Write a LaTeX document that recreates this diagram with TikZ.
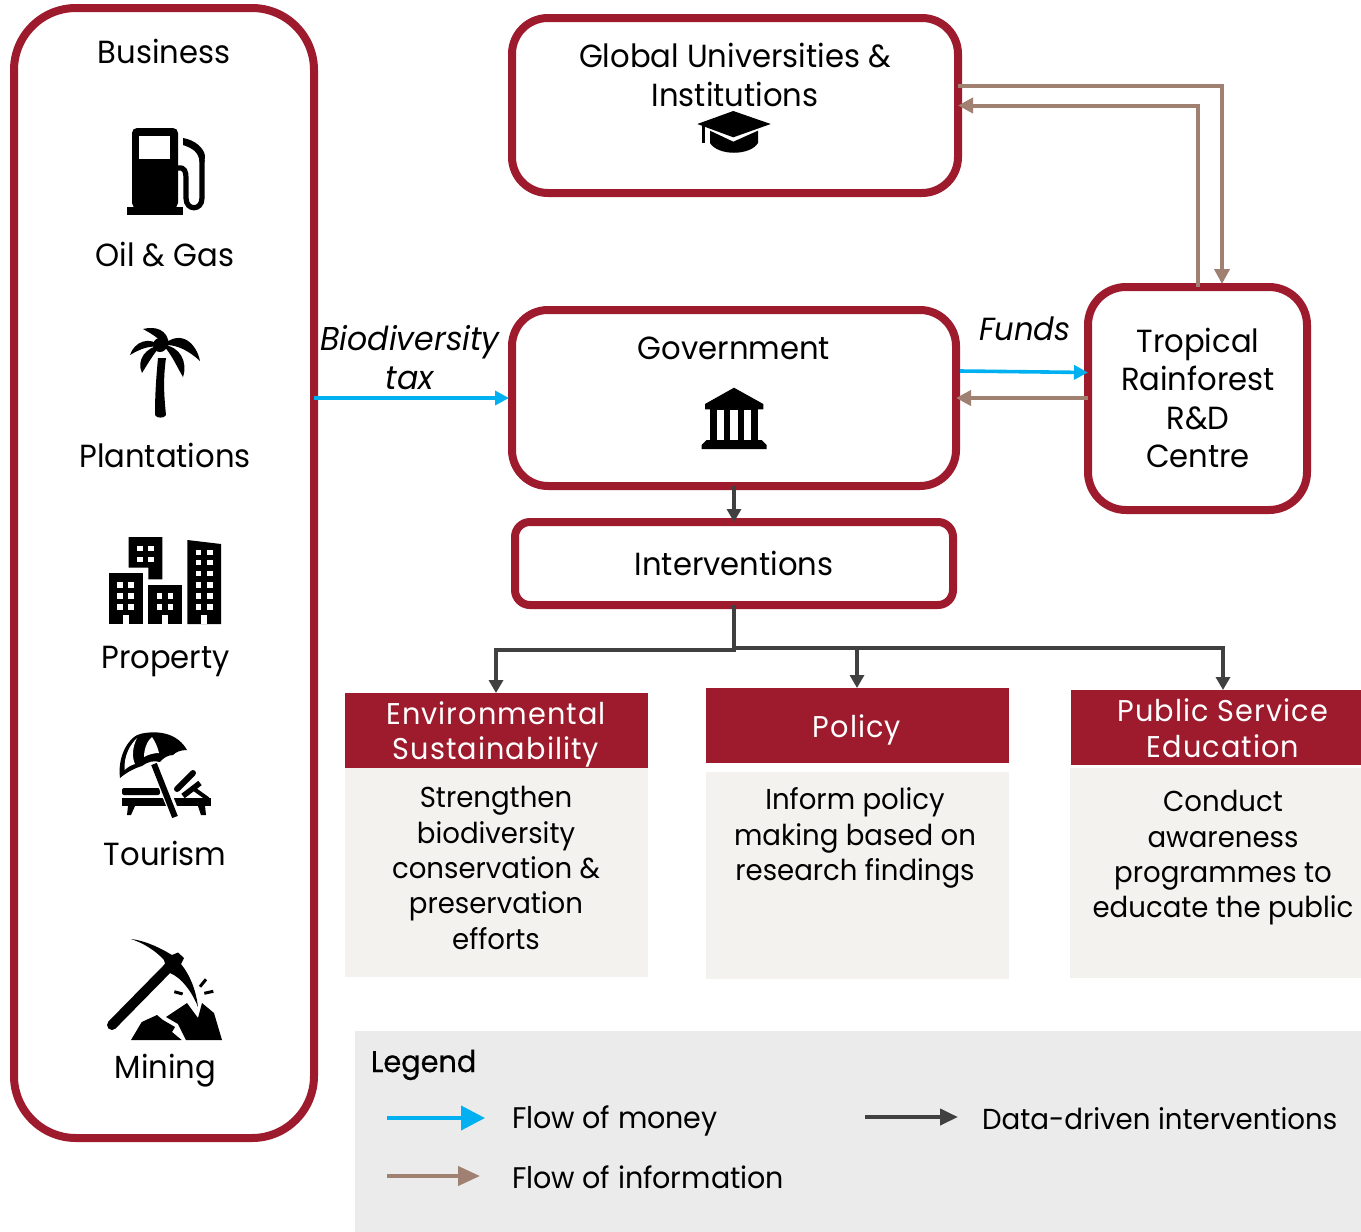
\documentclass[tikz,border=0pt]{standalone}
\usepackage{fontspec}
\usetikzlibrary{arrows.meta,calc}
\setmainfont{Poppins}[FakeStretch=0.958]
\definecolor{dred}{HTML}{9E1B2D}
\definecolor{panel}{HTML}{F3F2EE}
\definecolor{lgd}{HTML}{EBEBEB}
\definecolor{brownline}{HTML}{A08070}
\definecolor{blueline}{HTML}{00B0F0}
\definecolor{darkline}{HTML}{404040}
\newcommand{\fsize}[2]{\fontsize{#1}{#2}\selectfont}
\tikzset{
  x=1pt,y=-1pt,
  redbox/.style={draw=dred,line width=8pt,fill=white,inner sep=0pt,outer sep=0pt,align=center},
  hdr/.style={fill=dred,inner sep=0pt,outer sep=0pt,minimum width=303pt},
  pnl/.style={fill=panel,inner sep=0pt,outer sep=0pt,minimum width=303pt},
  txt/.style={inner sep=0pt,outer sep=0pt,align=center,text=black,font=\fsize{32}{38.6}},
  ptxt/.style={inner sep=0pt,outer sep=0pt,align=center,text=black,font=\fsize{28.8}{35.3}},
  htxt/.style={inner sep=0pt,outer sep=0pt,align=center,text=white,font=\fsize{30}{35.6}\addfontfeatures{LetterSpace=3.6}},
  ltxt/.style={inner sep=0pt,outer sep=0pt,anchor=base west,text=black,font=\fsize{29.8}{36}},
  money/.style={draw=blueline,line width=3.6pt,-{Triangle[length=14pt,width=14pt]}},
  info/.style={draw=brownline,line width=4pt,-{Triangle[length=15pt,width=15pt]}},
  data/.style={draw=darkline,line width=4pt,-{Triangle[length=13pt,width=14pt]}},
  icon/.style={fill=black,draw=none},
}
\begin{document}
\begin{tikzpicture}
\useasboundingbox (0,0) rectangle (1361,1232);
% boxes
\node[redbox,minimum width=300pt,minimum height=1130pt,rounded corners=62pt] (biz) at (164,573) {};
\node[redbox,minimum width=446pt,minimum height=175pt,rounded corners=36pt] (uni) at (735,105.5) {};
\node[redbox,minimum width=444pt,minimum height=176pt,rounded corners=36pt] (gov) at (734,398) {};
\node[redbox,minimum width=219pt,minimum height=223pt,rounded corners=38pt] (rd) at (1197.5,398.5) {};
\node[redbox,minimum width=438pt,minimum height=83pt,rounded corners=15pt] (intv) at (734,563.5) {};
% panels
\node[hdr,minimum height=75pt] (h1) at (496.5,730.5) {};
\node[pnl,minimum height=209pt] (p1) at (496.5,872.5) {};
\node[hdr,minimum height=75pt] (h2) at (857.5,725.5) {};
\node[pnl,minimum height=207pt] (p2) at (857.5,875.5) {};
\node[hdr,minimum height=75pt,minimum width=290pt] (h3) at (1216,727.5) {};
\node[pnl,minimum height=210pt,minimum width=291pt] (p3) at (1215.5,873) {};
\node[fill=lgd,inner sep=0pt,outer sep=0pt,minimum width=1006pt,minimum height=201pt] (lg) at (858,1131.5) {};
% texts
\node[txt,anchor=base] (tb) at (164,63) {Business};
\node[txt,anchor=base] (t1) at (165,266) {Oil \& Gas};
\node[txt,anchor=base] (t2) at (165,467.5) {Plantations};
\node[txt,anchor=base] (t3) at (165.5,668.5) {Property};
\node[txt,anchor=base] (t4) at (165,865) {Tourism};
\node[txt,anchor=base] (t5) at (165.5,1078) {Mining};
\node[txt] (tuni) at (735,75) {Global Universities \&\\Institutions};
\node[txt,anchor=base] (tgov) at (734,359) {Government};
\node[txt] (trd) at (1198,398) {Tropical\\Rainforest\\R\&D\\Centre};
\node[txt,anchor=base] (tint) at (734,575) {Interventions};
\node[txt,font=\fsize{33}{38.4}\itshape] (ttax) at (410,357.5) {Biodiversity\\tax};
\node[txt,anchor=base,font=\fsize{32}{38.4}\itshape] (tfund) at (1025,340) {Funds};
\node[htxt] (th1) at (496,734.5) {Environmental\\Sustainability};
\node[htxt] (th2) at (857,730) {Policy};
\node[htxt] (th3) at (1223,728) {Public Service\\Education};
\node[ptxt] (tp1) at (496,868) {Strengthen\\biodiversity\\conservation \&\\preservation\\efforts};
\node[ptxt] (tp2) at (855,838) {Inform policy\\making based on\\research findings};
\node[ptxt] (tp3) at (1223,858) {Conduct\\awareness\\programmes to\\educate the public};
\node[ltxt,font=\fsize{30}{36}\addfontfeatures{FakeBold=0.6}] (l0) at (371,1072) {Legend};
\node[ltxt] (l1) at (512,1128.5) {Flow of money};
\node[ltxt] (l2) at (512,1188.5) {Flow of information};
\node[ltxt,font=\fsize{28.9}{36}] (l3) at (982,1129.5) {Data-driven interventions};
% connectors
\draw[money,shorten >=3pt] (biz.east |- gov.west) -- (gov.west);
\coordinate (fa) at ($(gov.east)+(4,-27)$);
\coordinate (fb) at ($(rd.west)+(0,-26)$);
\draw[money] (fa) -- (fb);
\draw[info] (rd.west |- gov.east) -- (gov.east);
\coordinate (ua) at ($(uni.east)+(0,-19.5)$);
\coordinate (ub) at (uni.east);
\draw[info] (ua) -- (1222,86) -- (1222,284);
\draw[info] (1198,287) -- (1198,105.5) -- (ub);
\draw[data] (gov.south) -- (intv.north);
\draw[data] (intv.south) -- (734,650) -- (496,650) -- (496,693);
\draw[data] (734,648) -- (857,648) -- (857,688);
\draw[data] (734,648) -- (1223,648) -- (1223,690);
\coordinate (la) at (387,1118); \coordinate (lb) at (485,1118);
\draw[draw=blueline,line width=4pt,-{Triangle[length=24pt,width=24pt]}] (la) -- (lb);
\coordinate (lc) at (387,1176); \coordinate (ld) at (480,1176);
\draw[draw=brownline,line width=4pt,-{Triangle[length=22pt,width=19pt]}] (lc) -- (ld);
\coordinate (le) at (865,1117); \coordinate (lf) at (958,1117);
\draw[data,-{Triangle[length=18pt,width=16pt]}] (le) -- (lf);
% --- icons ---
% fuel pump
\fill[black,rounded corners=5pt] (132,208) -- (132,128) -- (178,128) -- (178,208) -- cycle;
\fill[black] (127,207) rectangle (183,215);
\fill[white] (139,136) rectangle (170,159);
\draw[black,line width=5.2pt] (178,168) .. controls (185,167) and (186,172) .. (186,178) -- (186,198) .. controls (186,211) and (202,211) .. (202,198) -- (202,160);
\fill[black] (183,138) .. controls (195,140) and (204,148) .. (205,156) -- (204.5,162) -- (199.5,162) .. controls (199,152) and (192,148) .. (183,145) -- cycle;
% palm
\fill[black] (143,329) .. controls (155,326) and (168,329) .. (169,345) -- (165,347) .. controls (160,338) and (150,333) .. (143,329) -- cycle;
\fill[black] (130,355) .. controls (134,342) and (150,335) .. (161,347) .. controls (150,345) and (140,349) .. (130,355) -- cycle;
\fill[black] (200,361) .. controls (197,345) and (182,328) .. (163,345) .. controls (178,344) and (190,352) .. (200,361) -- cycle;
\fill[black] (142,373) .. controls (136,360) and (146,347) .. (161,345) .. controls (153,355) and (150,360) .. (142,373) -- cycle;
\fill[black] (183,377) .. controls (188,362) and (180,346) .. (163,345) .. controls (172,355) and (176,365) .. (183,377) -- cycle;
\fill[black] (160,345) circle (7pt);
\fill[black] (155,415) .. controls (155,395) and (156,380) .. (158,358) -- (166,358) .. controls (163,380) and (164,395) .. (166,415) .. controls (165,418.5) and (156,418.5) .. (155,415) -- cycle;
% buildings
\fill[black] (128.7,537) -- (162.3,537) -- (162.3,579.3) -- (148.3,579.3) -- (148.3,567.7) -- (128.7,567.7) -- cycle;
\fill[black] (109,573.3) rectangle (142.7,624);
\fill[black] (148.3,584.7) rectangle (181.7,624);
\fill[black] (187.3,540) -- (221,544) -- (221,624) -- (187.3,624) -- cycle;
\foreach \bx in {137,148} \foreach \by in {545.7,556.7} \fill[white] (\bx,\by) rectangle ++(5.7,5.7);
\foreach \bx in {117.3,128.3} \foreach \by in {582,593.3,604.3} \fill[white] (\bx,\by) rectangle ++(5.7,5.7);
\foreach \bx in {156.7,167.7} \foreach \by in {593.3,604.3} \fill[white] (\bx,\by) rectangle ++(5.7,5.7);
\foreach \bx in {195.7,207} \foreach \by in {549.7,559.7,570.7,582,593.3,604.3} \fill[white] (\bx,\by) rectangle ++(5.7,5.7);
\foreach \bx in {123,162.3,201.3} \fill[white] (\bx,615.3) rectangle ++(5.7,8.7);
% umbrella and lounger
\fill[black] (120,778) .. controls (117,755) and (130,735) .. (142,733.5) .. controls (160,730) and (178,734) .. (187,750) .. controls (180,750) and (176,752) .. (173,755) .. controls (168,755) and (163,758) .. (160,762) .. controls (154,760) and (147,762) .. (142,766) .. controls (135,768) and (127,772) .. (120,778) -- cycle;
\fill[white] (124.5,770) .. controls (124,755) and (130,745) .. (137,738) .. controls (132,748) and (132,758) .. (135,764) .. controls (131,765) and (128,767) .. (124.5,770) -- cycle;
\fill[white] (144,757) .. controls (144,748) and (148,740) .. (152,737) .. controls (155,741) and (158,748) .. (159,753) .. controls (155,753) and (149,754) .. (144,757) -- cycle;
\fill[black,rounded corners=2pt] (122,788) rectangle (160,795);
\fill[black] (122,798) rectangle (211,806);
\fill[black] (128,806) -- (135,806) -- (131,815) -- (127,815) -- cycle;
\fill[black] (198,806) -- (205,806) -- (206,815) -- (201,815) -- cycle;
\draw[black,line width=6pt,line cap=round] (177,789) -- (193,773);
\draw[black,line width=5.5pt] (183,796) -- (200,783);
\draw[black,line width=4pt] (194,789) -- (208,799);
\draw[white,line width=10pt] (155,765) -- (176,817);
\draw[black,line width=6pt] (154,764) -- (175,817);
% mining
\draw[black,line width=10pt,line cap=round] (112,1025) -- (170,966);
\fill[black] (131,939) .. controls (147,941) and (162,949) .. (172,955) -- (178,952.5) -- (184,958) -- (181,964) .. controls (190,975) and (196,990) .. (198,1007) .. controls (192,992) and (182,978) .. (170,973) -- (163,968) .. controls (165,965) and (166,962) .. (164,960) .. controls (155,950) and (143,943) .. (131,939) -- cycle;
\fill[black] (131,1040) -- (141.7,1022) -- (157,1015) -- (163,1020) -- (175,1027) -- (172,1032) -- (181.7,1040) -- cycle;
\fill[black] (186,1040) -- (178,1024) -- (166,1017) -- (187,1003) -- (198,1018) -- (202,1003) -- (214,1013) -- (222,1040) -- cycle;
\draw[black,line width=3pt] (174.3,991.7) -- (182.7,994);
\draw[black,line width=3pt] (200,986.7) -- (206,979.3);
\draw[black,line width=3pt] (204.3,993.3) -- (213.3,991.3);
% grad cap
\fill[black] (697.3,124) -- (733.3,111) -- (770.7,124) -- (733.3,137.3) -- cycle;
\fill[black] (701.7,126) rectangle (705,143);
\fill[black] (710,130.7) -- (733.3,141.7) -- (758,130.7) -- (758,143) .. controls (750,156) and (718,156) .. (710,143) -- cycle;
% bank
\fill[black] (734,387.7) -- (763.3,404) -- (763.3,409.3) -- (705,409.3) -- (705,404) -- cycle;
\fill[black] (710,409) rectangle (758.3,441);
\foreach \bx in {716.7,730.3,744} \fill[white] (\bx,410) rectangle ++(7.3,30);
\fill[black] (701.7,449) -- (701.7,445) -- (706.7,440) -- (761.7,440) -- (766.7,445) -- (766.7,449) -- cycle;
\end{tikzpicture}
\end{document}
